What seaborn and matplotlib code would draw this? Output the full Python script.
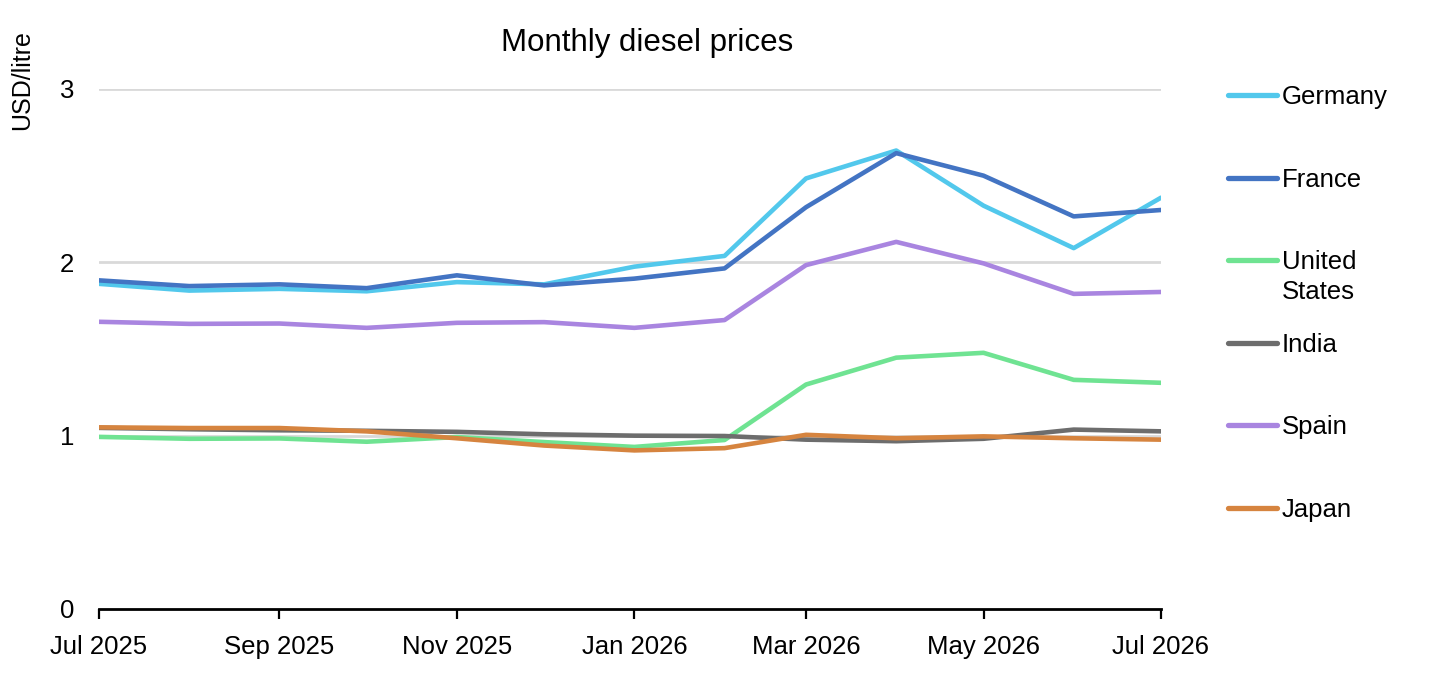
import numpy as np
import pandas as pd
import matplotlib
matplotlib.use("Agg")
import matplotlib.pyplot as plt
import matplotlib.dates as mdates
from matplotlib.lines import Line2D
import seaborn as sns

months = pd.date_range("2025-07-01", "2026-07-01", freq="MS")
countries = ["Germany", "France", "United States", "India", "Spain", "Japan"]
germany = [1.876, 1.837, 1.847, 1.833, 1.886, 1.873, 1.975, 2.037, 2.484, 2.645, 2.327, 2.082, 2.373]
france = [1.896, 1.863, 1.873, 1.851, 1.925, 1.867, 1.906, 1.965, 2.318, 2.630, 2.500, 2.265, 2.302]
united_states = [0.993, 0.982, 0.984, 0.965, 0.992, 0.963, 0.935, 0.975, 1.295, 1.450, 1.478, 1.322, 1.305]
india = [1.045, 1.037, 1.031, 1.028, 1.022, 1.008, 1.000, 0.998, 0.977, 0.968, 0.982, 1.035, 1.025]
spain = [1.657, 1.645, 1.647, 1.622, 1.651, 1.655, 1.622, 1.667, 1.984, 2.118, 1.994, 1.818, 1.829]
japan = [1.048, 1.044, 1.044, 1.025, 0.985, 0.943, 0.915, 0.928, 1.005, 0.985, 0.996, 0.985, 0.977]
colors = ["#52C8EC", "#4374C3", "#6FE392", "#6D6D6D", "#A985E0", "#D6843F"]
y_ticks = [0, 1, 2, 3]

series = [germany, france, united_states, india, spain, japan]
df = pd.DataFrame({
    "month": np.tile(months, len(countries)),
    "country": np.repeat(countries, len(months)),
    "price": np.concatenate(series),
})

sns.set_theme(style="white")
plt.rcParams["font.family"] = ["Liberation Sans", "DejaVu Sans"]
plt.rcParams["text.color"] = "black"
plt.rcParams["xtick.color"] = "black"
plt.rcParams["ytick.color"] = "black"
plt.rcParams["axes.labelcolor"] = "black"
plt.rcParams["ytick.left"] = False
plt.rcParams["ytick.major.size"] = 0

fig = plt.figure(figsize=(14.3, 6.75), dpi=100)
ax_pos = [99 / 1430, 66 / 675, (1161 - 99) / 1430, (609 - 89) / 675]
ax = fig.add_axes(ax_pos)

palette = dict(zip(countries, colors))
sns.lineplot(data=df, x="month", y="price", hue="country", hue_order=countries,
             palette=palette, linewidth=3.3, legend=False, ax=ax, sort=False)

ax.set_yticks(y_ticks)
ax.set_yticklabels([str(t) for t in y_ticks], fontsize=18.5)
for t in y_ticks[1:]:
    ax.axhline(t, color="#D9D9D9", lw=2.0, zorder=0)

ax.xaxis.set_major_locator(mdates.MonthLocator(bymonth=[1, 3, 5, 7, 9, 11]))
ax.xaxis.set_major_formatter(mdates.DateFormatter("%b %Y"))
ax.tick_params(axis="x", direction="out", length=7.5, width=1.6,
               labelsize=18.5, pad=11, bottom=True)
ax.tick_params(axis="y", left=False, length=0, width=0, pad=18)
for s in ["top", "right", "left"]:
    ax.spines[s].set_visible(False)
ax.spines["bottom"].set_color("black")
ax.spines["bottom"].set_linewidth(2)
ax.spines["bottom"].set_zorder(5)
ax.set_xlabel("")
ax.set_ylabel("")
ax.grid(False)
ax.margins(x=0)
ax.set_xlim(mdates.date2num(months[0]), mdates.date2num(months[-1]))
ax.set_ylim(0, 3)
ax.set_position(ax_pos)

fig.text(647 / 1430, 1 - 43 / 675, "Monthly diesel prices", ha="center", va="center",
         fontsize=22.5, color="black")
fig.text(22 / 1430, 1 - 80 / 675, "USD/litre", rotation=90, ha="center", va="center",
         fontsize=18, color="black")

labels = ["Germany", "France", "United", "India", "Spain", "Japan"]
handles = [Line2D([0], [0], color=c, lw=3.8, solid_capstyle="round") for c in colors]
leg = fig.legend(handles, labels, loc="upper left", bbox_to_anchor=(1228 / 1430, 1 - 85 / 675),
                 frameon=False, fontsize=18.5, handlelength=1.9, handletextpad=0.2,
                 labelspacing=2.28, borderpad=0, borderaxespad=0)
fig.text(1282 / 1430, 1 - 292 / 675, "States", ha="left", va="center", fontsize=18.5, color="black")

fig.savefig("out.png", dpi=100, facecolor="white")
